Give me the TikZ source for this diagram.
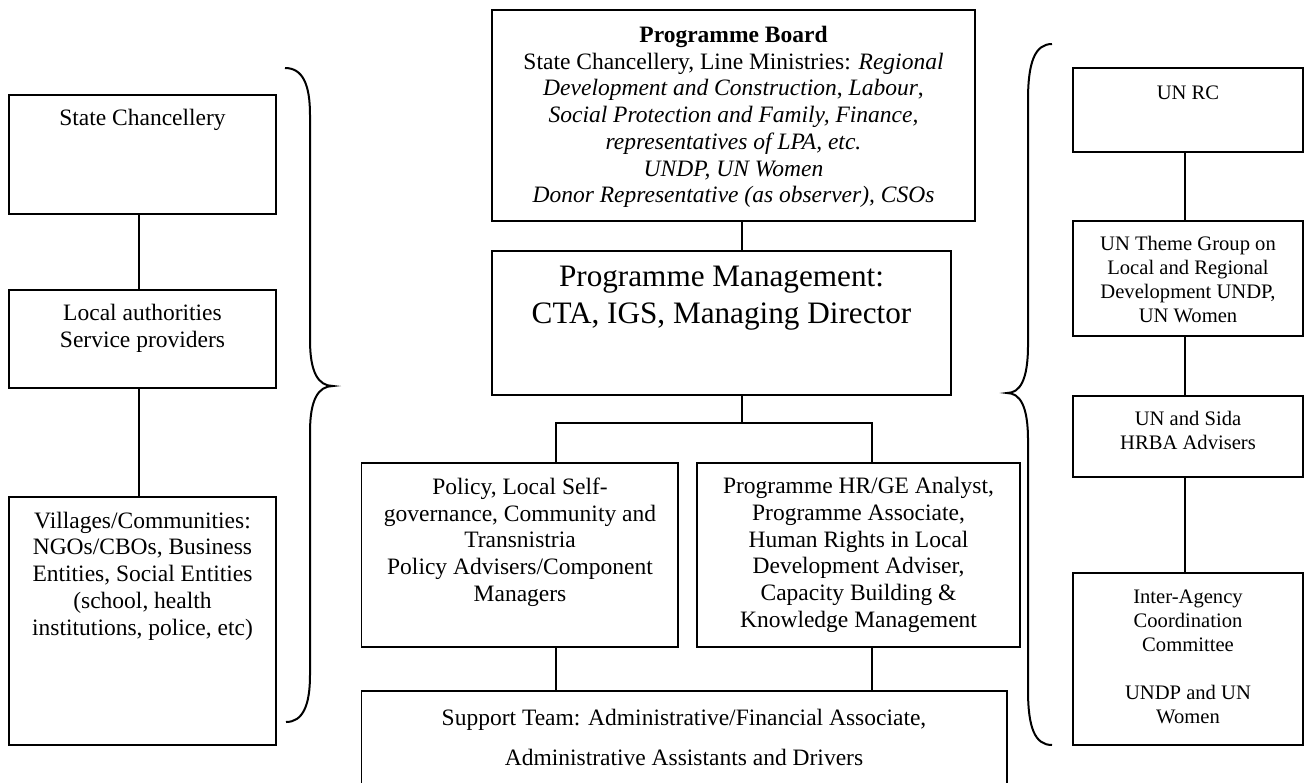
\documentclass[tikz,border=0pt]{standalone}
\usepackage{fontspec}
\setmainfont{Liberation Serif}
\usetikzlibrary{fit}
\begin{document}
\begin{tikzpicture}[x=0.5pt,y=-0.5pt,
  box/.style={draw, line width=0.7pt, inner sep=0pt},
  link/.style={line width=0.9pt},
  brace/.style={line width=1pt},
  txt/.style={align=center, inner sep=0pt, font=\fontsize{11.75}{13.35}\selectfont},
  bigtxt/.style={align=center, inner sep=0pt, font=\fontsize{15.6}{18.5}\selectfont},
  rtxt/.style={align=center, inner sep=0pt, font=\fontsize{10.3}{12}\selectfont},
  suptxt/.style={align=center, inner sep=0pt, font=\fontsize{11.75}{20}\selectfont}]
\useasboundingbox (0,0) rectangle (1305,782);
\begin{scope}
\clip (0,0) rectangle (1305,782);
% left column
\node[box, fit={(9,95) (276,214)}] (sc) {};
\node[box, fit={(9,290) (276,388)}] (la) {};
\node[box, fit={(9,497) (276,745)}] (vc) {};
\node[txt] (sct) at (142.5,120) {State Chancellery};
\node[txt] (lat) at (142.5,328.5) {Local authorities\\Service providers};
\node[txt] (vct) at (142.5,576) {Villages/Communities:\\NGOs/CBOs, Business\\Entities, Social Entities\\(school, health\\institutions, police, etc)};
\coordinate (lx) at (139,0);
\draw[link] (sc.south -| lx) -- (la.north -| lx);
\draw[link] (la.south -| lx) -- (vc.north -| lx);
% centre column
\node[box, fit={(492,10) (975,221)}] (pb) {};
\node[txt] (pbt) at (733.5,117) {{\bfseries Programme Board}\\
State Chancellery, Line Ministries: \textit{Regional}\\
\textit{Development and Construction}, \textit{Labour},\\
\textit{Social Protection and Family, Finance,}\\
\textit{representatives of LPA, etc.}\\
\textit{UNDP, UN Women}\\
\textit{Donor Representative (as observer), CSOs}};
\node[box, fit={(492,251) (951,395)}] (pm) {};
\node[bigtxt] (pmt) at (721.5,298.5) {Programme Management:\\CTA, IGS, Managing Director};
\node[box, fit={(361.5,463) (678,647)}] (pol) {};
\node[txt] (polt) at (520,542) {Policy, Local Self-\\governance, Community and\\Transnistria\\Policy Advisers/Component\\Managers};
\node[box, fit={(697,463) (1020,647)}] (hr) {};
\node[txt] (hrt) at (858.5,555) {Programme HR/GE Analyst,\\Programme Associate,\\Human Rights in Local\\Development Adviser,\\Capacity Building \&\\Knowledge Management};
\node[box, fit={(361.5,691) (1007,820)}] (st) {};
\node[suptxt] (stt) at (684,737) {Support Team: Administrative/Financial Associate,\\Administrative Assistants and Drivers};
\coordinate (cx) at (742,0);
\coordinate (bx1) at (556,0);
\coordinate (bx2) at (872,0);
\coordinate (by) at (0,423);
\draw[link] (pb.south -| cx) -- (pm.north -| cx);
\draw[link] (pm.south -| cx) -- (by -| cx);
\draw[link] (pol.north -| bx1) -- (by -| bx1) -- (by -| bx2) -- (hr.north -| bx2);
\draw[link] (pol.south -| bx1) -- (st.north -| bx1);
\draw[link] (hr.south -| bx2) -- (st.north -| bx2);
% right column
\node[box, fit={(1073,68) (1303,152)}] (rc) {};
\node[box, fit={(1073,221) (1303,336)}] (tg) {};
\node[box, fit={(1073,396) (1303,477)}] (sd) {};
\node[box, fit={(1073,573) (1303,745)}] (ia) {};
\node[rtxt] (rct) at (1188,93) {UN RC};
\node[rtxt] (tgt) at (1188,280) {UN Theme Group on\\Local and Regional\\Development UNDP,\\UN Women};
\node[rtxt] (sdt) at (1188,430) {UN and Sida\\HRBA Advisers};
\node[rtxt] (iat) at (1188,657) {Inter-Agency\\Coordination\\Committee\\[12pt]UNDP and UN\\Women};
\coordinate (rx) at (1185,0);
\draw[link] (rc.south -| rx) -- (tg.north -| rx);
\draw[link] (tg.south -| rx) -- (sd.north -| rx);
\draw[link] (sd.south -| rx) -- (ia.north -| rx);
% braces
\draw[brace] (285,68) .. controls (303,68) and (310,85) .. (310,115) -- (310,340) .. controls (310,372) and (318,386) .. (333,386) .. controls (318,386) and (310,400) .. (310,432) -- (310,675) .. controls (310,705) and (303,722) .. (286,722);
\draw[brace] (1052,44) .. controls (1035,44) and (1028,62) .. (1028,100) -- (1028,345) .. controls (1028,380) and (1020,393) .. (1007,393) .. controls (1020,393) and (1028,406) .. (1028,440) -- (1028,690) .. controls (1028,728) and (1035,745) .. (1052,745);
\end{scope}
\end{tikzpicture}
\end{document}
